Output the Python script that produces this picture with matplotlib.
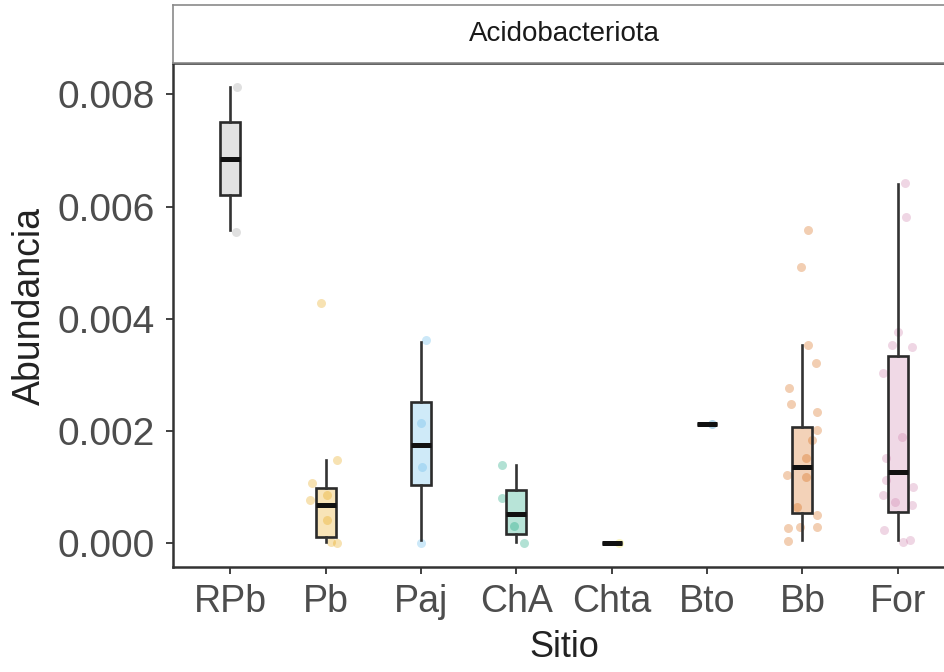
import matplotlib
matplotlib.use("Agg")
import matplotlib.pyplot as plt
from matplotlib.colors import to_rgba

plt.rcParams['font.family'] = ['Liberation Sans', 'DejaVu Sans']

sitios = ['RPb', 'Pb', 'Paj', 'ChA', 'Chta', 'Bto', 'Bb', 'For']
colores = ['#999999', '#E69F00', '#56B4E9', '#009E73',
           '#F0E442', '#0072B2', '#D55E00', '#CC79A7']

# box stats
whis_lo = [0.00558, 0.00002, 0.00005, 0.00002, 0.0, 0.00212, 0.00005, 0.00005]
q1 = [0.00620, 0.00010, 0.00103, 0.00016, 0.0, 0.00212, 0.00053, 0.00055]
mediana = [0.00684, 0.00068, 0.00175, 0.00052, 0.0, 0.00212, 0.00135, 0.00127]
q3 = [0.00750, 0.00098, 0.00251, 0.00094, 0.0, 0.00212, 0.00207, 0.00333]
whis_hi = [0.00813, 0.00148, 0.00358, 0.00139, 0.0, 0.00212, 0.00353, 0.00640]

# jittered points
pts_RPb = [0.00813, 0.00554]
pts_Pb = [0.00428, 0.00148, 0.00107, 0.00077, 0.00086, 0.00040, 0.00000, 0.00002]
pts_Paj = [0.00362, 0.00000, 0.00214, 0.00136]
pts_ChA = [0.00139, 0.00080, 0.00000, 0.00030]
pts_Chta = [0.0]
pts_Bto = [0.00212]
pts_Bb = [0.00558, 0.00492, 0.00353, 0.00321, 0.00276, 0.00248, 0.00234, 0.00201,
          0.00184, 0.00152, 0.00121, 0.00118, 0.00064, 0.00050, 0.00027, 0.00029,
          0.00029, 0.00004]
pts_For = [0.00642, 0.00581, 0.00376, 0.00353, 0.00350, 0.00303, 0.00189, 0.00151,
           0.00112, 0.00100, 0.00086, 0.00073, 0.00068, 0.00023, 0.00002, 0.00005]
puntos = [pts_RPb, pts_Pb, pts_Paj, pts_ChA, pts_Chta, pts_Bto, pts_Bb, pts_For]

# horizontal jitter (as seen in the picture)
jit = [
    [0.07, 0.06],
    [-0.05, 0.12, -0.14, -0.16, 0.01, 0.02, 0.12, 0.06],
    [0.05, 0.0, 0.0, 0.01],
    [-0.15, -0.15, 0.08, -0.02],
    [0.08],
    [0.05],
    [0.06, -0.02, 0.06, 0.14, -0.14, -0.12, 0.15, 0.15, 0.10, 0.04, -0.16, 0.04,
     -0.06, 0.15, -0.15, -0.03, 0.15, -0.15],
    [0.08, 0.09, 0.0, -0.06, 0.15, -0.16, 0.04, -0.12, -0.12, 0.16, -0.16, -0.03,
     0.15, -0.14, 0.05, 0.13],
]

W, H = 945, 672
fig = plt.figure(figsize=(W / 100, H / 100), dpi=100)
x0, x1, y0, y1 = 173, 955, 567, 63
ax = fig.add_axes([x0 / W, 1 - y0 / H, (x1 - x0) / W, (y0 - y1) / H])

for i, (vals, dx) in enumerate(zip(puntos, jit)):
    xs = [i + 1 + d for d in dx]
    ax.scatter(xs, vals, s=42, color=colores[i], alpha=0.3, linewidths=0, zorder=1)

stats = []
for i, s in enumerate(sitios):
    stats.append(dict(label=s, whislo=whis_lo[i], q1=q1[i], med=mediana[i],
                      q3=q3[i], whishi=whis_hi[i], fliers=[]))
pos = list(range(1, len(sitios) + 1))
bp = ax.bxp(stats, positions=pos, widths=0.21, patch_artist=True, showcaps=False,
            boxprops=dict(edgecolor='#2b2b2b', linewidth=1.9),
            whiskerprops=dict(color='#333333', linewidth=1.9),
            medianprops=dict(color='#111111', linewidth=3.6, solid_capstyle='butt'))
for patch, c in zip(bp['boxes'], colores):
    patch.set_facecolor(to_rgba(c, 0.28))
    patch.set_zorder(2)

ax.set_xlim(0.4, 8.6)
ax.set_ylim(-0.00043, 0.00856)
ax.set_xticks(pos)
ax.set_xticklabels(sitios)
ax.set_yticks([0.0, 0.002, 0.004, 0.006, 0.008])
ax.set_yticklabels(['0.000', '0.002', '0.004', '0.006', '0.008'])
ax.tick_params(axis='both', length=5, width=1.3, color='#333333',
               labelcolor='#4d4d4d')
ax.tick_params(axis='y', labelsize=28, pad=8)
ax.tick_params(axis='x', labelsize=27, pad=7)
for sp in ax.spines.values():
    sp.set_color('#333333')
    sp.set_linewidth(1.8)
ax.set_xlabel('Sitio', fontsize=26, color='#222222')
ax.set_ylabel('Abundancia', fontsize=27, color='#222222')
ax.xaxis.set_label_coords((564 - x0) / (x1 - x0), (y0 - 630) / (y0 - y1))
ax.yaxis.set_label_coords((48 - x0) / (x1 - x0), (y0 - 306) / (y0 - y1))

# facet strip
strip = fig.add_axes([x0 / W, 1 - y1 / H, (x1 - x0) / W, (y1 - 5) / H])
strip.set_xticks([])
strip.set_yticks([])
for sp in strip.spines.values():
    sp.set_color('#8a8a8a')
    sp.set_linewidth(1.2)
strip.text((564 - x0) / (x1 - x0), 0.5, 'Acidobacteriota', ha='center', va='center',
           fontsize=20, color='#1a1a1a', transform=strip.transAxes)

fig.savefig('out.png', dpi=100)
